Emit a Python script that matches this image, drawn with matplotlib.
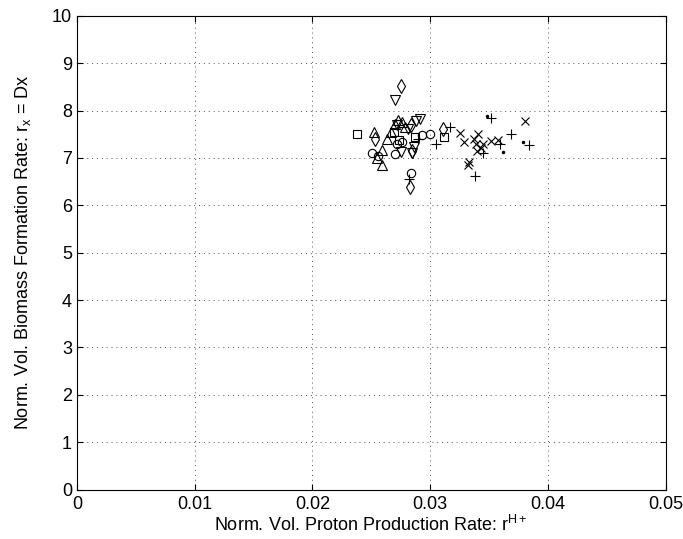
import matplotlib
matplotlib.use('Agg')
from matplotlib import pyplot as plt

plt.rcParams['font.family'] = ['Liberation Sans', 'DejaVu Sans']
plt.rcParams['mathtext.fontset'] = 'custom'
plt.rcParams['mathtext.rm'] = 'Liberation Sans'
plt.rcParams['mathtext.default'] = 'regular'

# data, one list pair per marker
circle_x = [0.0251, 0.0270, 0.0276, 0.0284, 0.0293, 0.0300, 0.0272, 0.0256]
circle_y = [7.10, 7.09, 7.34, 6.68, 7.48, 7.51, 7.30, 7.05]
square_x = [0.0238, 0.0274, 0.0287, 0.0312, 0.0269]
square_y = [7.50, 7.37, 7.44, 7.45, 7.55]
diamond_x = [0.0275, 0.0253, 0.0284, 0.0311, 0.0283, 0.0285]
diamond_y = [8.52, 7.39, 7.69, 7.62, 6.38, 7.15]
tri_up_x = [0.0252, 0.0259, 0.0259, 0.0263, 0.0270, 0.0273, 0.0276, 0.0279, 0.0255, 0.0267]
tri_up_y = [7.55, 7.16, 6.85, 7.39, 7.72, 7.80, 7.75, 7.65, 7.00, 7.55]
tri_down_x = [0.0270, 0.0275, 0.0291, 0.0286, 0.0285, 0.0272, 0.0288, 0.0281]
tri_down_y = [8.22, 7.13, 7.82, 7.23, 7.10, 7.70, 7.78, 7.60]
plus_x = [0.0282, 0.0305, 0.0317, 0.0352, 0.0369, 0.0384, 0.0359, 0.0345, 0.0338, 0.0290]
plus_y = [6.55, 7.30, 7.66, 7.85, 7.50, 7.28, 7.30, 7.10, 6.62, 7.40]
cross_x = [0.0381, 0.0325, 0.0329, 0.0337, 0.0339, 0.0341, 0.0343, 0.0345,
           0.0352, 0.0358, 0.0340, 0.0333, 0.0332]
cross_y = [7.77, 7.53, 7.33, 7.40, 7.30, 7.50, 7.20, 7.30,
           7.35, 7.38, 7.15, 6.92, 6.85]
dot_x = [0.0348, 0.0379, 0.0362]
dot_y = [7.88, 7.33, 7.12]

xticks = [0, 0.01, 0.02, 0.03, 0.04, 0.05]
xticklabels = ['0', '0.01', '0.02', '0.03', '0.04', '0.05']
yticks = list(range(0, 11))

fig = plt.figure(figsize=(6.83, 5.39), dpi=100)
ax = fig.add_axes([0.1127, 0.0918, 0.8617, 0.8789])

ms = 6
mk = dict(linestyle='none', color='black', markerfacecolor='none', markeredgewidth=0.8)
ax.plot(circle_x, circle_y, marker='o', markersize=ms, **mk)
ax.plot(square_x, square_y, marker='s', markersize=ms - 0.5, **mk)
ax.plot(diamond_x, diamond_y, marker='d', markersize=ms + 1, **mk)
ax.plot(tri_up_x, tri_up_y, marker='^', markersize=ms + 0.5, **mk)
ax.plot(tri_down_x, tri_down_y, marker='v', markersize=ms + 0.5, **mk)
ax.plot(plus_x, plus_y, marker='+', markersize=ms + 1, **mk)
ax.plot(cross_x, cross_y, marker='x', markersize=ms, **mk)
ax.plot(dot_x, dot_y, marker='.', markersize=3, linestyle='none', color='black')

ax.set_xlim(0, 0.05)
ax.set_ylim(0, 10)
ax.set_xticks(xticks)
ax.set_xticklabels(xticklabels)
ax.set_yticks(yticks)
ax.tick_params(direction='in', length=4, labelsize=13, top=True, right=True)
ax.tick_params(axis='x', pad=5)
ax.grid(True, linestyle=(0, (1, 4)), color='#555555', linewidth=0.7)
for s in ax.spines.values():
    s.set_linewidth(0.8)

ax.set_xlabel('Norm. Vol. Proton Production Rate: r$^{H+}$', fontsize=13, labelpad=1)
ax.set_ylabel('Norm. Vol. Biomass Formation Rate: r$_x$ = Dx', fontsize=13, labelpad=14)

fig.savefig('out.png', dpi=100)
